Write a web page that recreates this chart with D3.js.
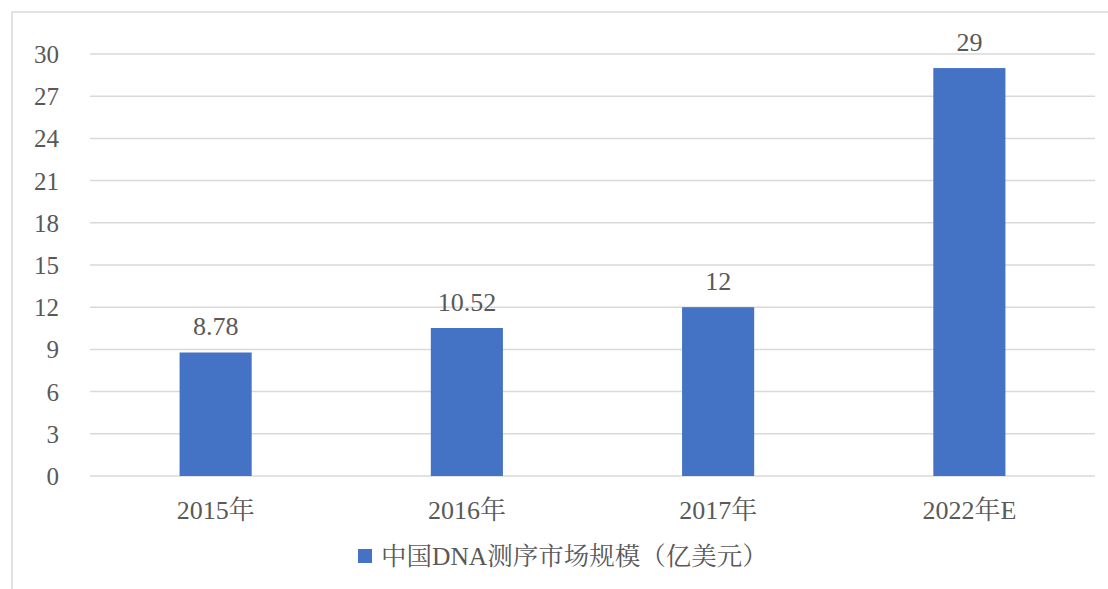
<!DOCTYPE html>
<html><head><meta charset="utf-8">
<script src="https://cdn.jsdelivr.net/npm/d3@7"></script>
<style>
html,body{margin:0;padding:0;background:#fff;}
svg text{font-family:"Liberation Serif","Times New Roman","Noto Serif CJK SC","Noto Sans CJK SC",serif;fill:#595959;}
</style></head>
<body><svg id="c" width="1108" height="589"></svg>
<script>
const categories = ["2015年", "2016年", "2017年", "2022年E"];
const values = [8.78, 10.52, 12, 29];
const valueLabels = ["8.78", "10.52", "12", "29"];
const yTicks = [0, 3, 6, 9, 12, 15, 18, 21, 24, 27, 30];
const seriesName = "中国DNA测序市场规模（亿美元）";

const svg = d3.select("#c");
// chart frame
svg.append("rect").attr("x", 12).attr("y", 12).attr("width", 1110).attr("height", 600)
  .attr("fill", "#fff").attr("stroke", "#D9D9D9").attr("stroke-width", 1.5);

const x = d3.scaleBand().domain(categories).range([90, 1095]).paddingInner(0.713).paddingOuter(0.3565);
const y = d3.scaleLinear().domain([0, 30]).range([476, 54]);

// gridlines
svg.append("g").selectAll("line").data(yTicks).join("line")
  .attr("x1", 90).attr("x2", 1095)
  .attr("y1", d => y(d)).attr("y2", d => y(d))
  .attr("stroke", "#D9D9D9").attr("stroke-width", 1.5);

// y axis labels
const yAxis = d3.axisLeft(y).tickValues(yTicks).tickSize(0).tickPadding(0);
const ya = svg.append("g").attr("transform", "translate(59,0)").call(yAxis);
ya.select(".domain").remove();
ya.selectAll("text").attr("font-size", 25).attr("fill", "#595959")
  .style("font-family", '"Liberation Serif", serif').attr("dy", "0.34em");

// bars
svg.append("g").selectAll("rect").data(values).join("rect")
  .attr("x", (d, i) => x(categories[i]))
  .attr("width", x.bandwidth())
  .attr("y", d => y(d))
  .attr("height", d => y(0) - y(d))
  .attr("fill", "#4472C4");

// value labels
svg.append("g").selectAll("text").data(values).join("text")
  .attr("x", (d, i) => x(categories[i]) + x.bandwidth() / 2)
  .attr("y", d => y(d) - 17)
  .attr("text-anchor", "middle")
  .attr("font-size", 26)
  .text((d, i) => valueLabels[i]);

// x axis labels
const xAxis = d3.axisBottom(x).tickSize(0).tickPadding(0);
const xa = svg.append("g").attr("transform", "translate(0,476)").call(xAxis);
xa.select(".domain").remove();
xa.selectAll("text").attr("font-size", 26).attr("fill", "#595959")
  .style("font-family", '"Liberation Serif","Noto Serif CJK SC","Noto Sans CJK SC", serif')
  .attr("dy", 0).attr("y", 43);

// legend
const lg = svg.append("g");
lg.append("rect").attr("x", 358).attr("y", 549).attr("width", 14).attr("height", 14).attr("fill", "#4472C4");
lg.append("text").attr("x", 381).attr("y", 565).attr("font-size", 25.5).text(seriesName);
</script></body></html>
